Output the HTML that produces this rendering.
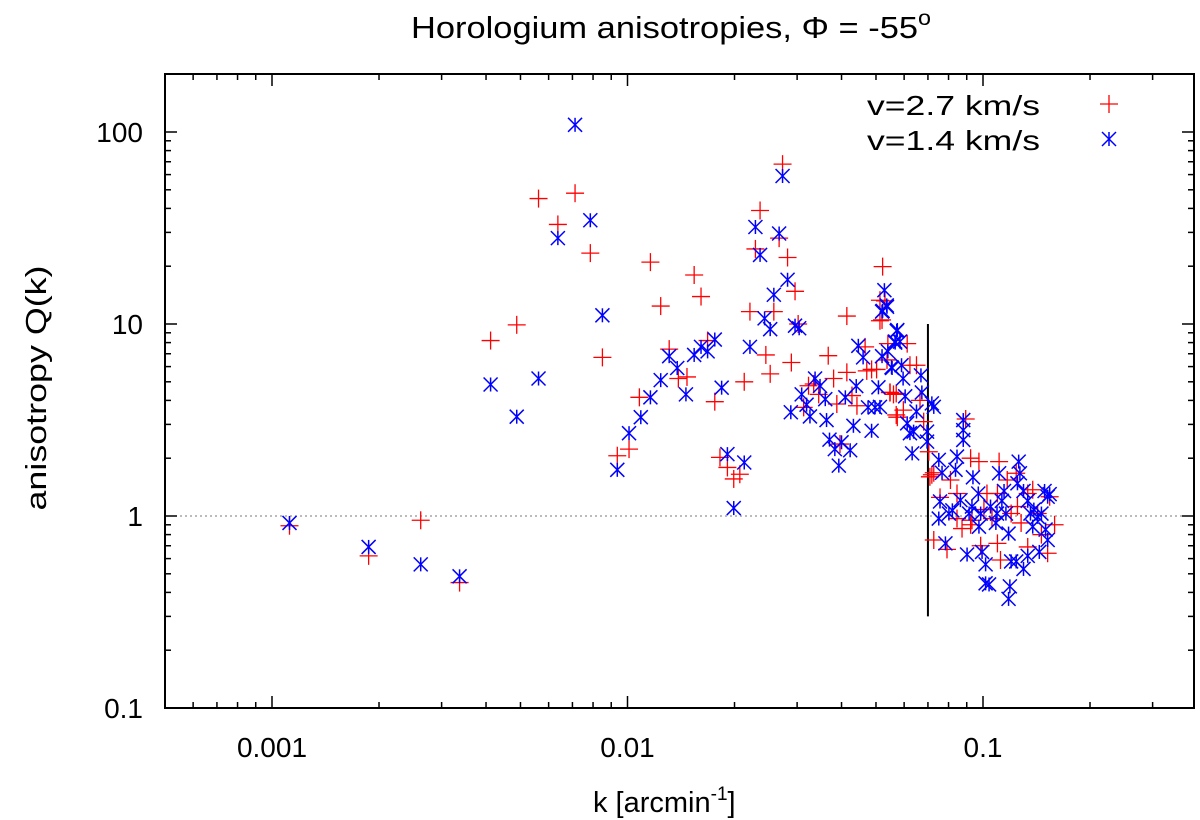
<!DOCTYPE html>
<html><head><meta charset="utf-8"><style>
html,body{margin:0;padding:0;background:#fff;}
svg{display:block;font-family:"Liberation Sans",sans-serif;}
</style></head><body>
<svg id="chart" width="1200" height="820" viewBox="0 0 1200 820" xmlns="http://www.w3.org/2000/svg">
<rect x="0" y="0" width="1200" height="820" fill="#fff"/>
<text x="411" y="38" font-size="31" textLength="520" lengthAdjust="spacingAndGlyphs">Horologium anisotropies, Φ = -55<tspan dy="-13" font-size="21">o</tspan></text>
<g id="axes"></g>
<g id="marks"></g>
<text x="593" y="812" font-size="29">k [arcmin<tspan dy="-12" font-size="19">-1</tspan><tspan dy="12">]</tspan></text>
<text transform="translate(46,388) rotate(-90)" font-size="29" text-anchor="middle" textLength="245" lengthAdjust="spacingAndGlyphs">anisotropy Q(k)</text>
<g>
<text x="867" y="115" font-size="28" textLength="173" lengthAdjust="spacingAndGlyphs">v=2.7 km/s</text>
<text x="867" y="150" font-size="28" textLength="173" lengthAdjust="spacingAndGlyphs">v=1.4 km/s</text>
<g id="legmarks"></g>
</g>
</svg>
<script>
const xTicks=[0.001,0.01,0.1];
const xTickLabels=["0.001","0.01","0.1"];
const yTicks=[0.1,1,10,100];
const yTickLabels=["0.1","1","10","100"];
const cutK=0.07;
const cutQ=[0.3,10];
const redK=[0.00112,0.00187,0.00262,0.00337,0.00412,0.00488,0.00562,0.00637,0.00712,0.00786,0.0085,
0.00936,0.0101,0.0108,0.0116,0.0124,0.0131,0.0139,0.0147,0.0154,0.0161,0.0168,0.0176,0.0182,0.0191,0.0199,0.0207,0.0213,0.0221,0.0229,0.0236,0.0245,0.0252,0.0258,0.0267,0.0273,0.0282,0.0296,0.0302,0.0289,0.0313,0.0323,0.0334,0.0345,0.0367,0.038,0.0388,0.0396,0.0414,0.0414,0.0428,0.0442,0.0466,0.0471,0.0486,0.0502,0.0513,0.0522,0.053,0.0547,0.056,0.0574,
0.0537,0.0612,0.065,0.0548,0.057,0.0597,0.057,0.0665,0.0681,0.0704,0.052,0.0513,0.054,0.0623,0.0718,0.0727,0.0792,
0.0894,0.0727,0.0923,0.0974,0.111,0.0709,0.081,0.0757,0.0845,0.1026,0.1006,0.1098,0.124,0.117,0.125,0.1336,0.1425,0.159,0.152,0.1336,0.1098,0.112,0.0985,0.0931,0.0873,0.0923,0.0845,0.106,0.146,0.154,0.138,0.12,0.128];
const redQ=[0.89,0.62,0.95,0.45,8.2,9.9,45,33,48,23.4,6.7,
2.06,2.23,4.15,21,12.4,7.4,5.2,5.3,18,13.9,8.2,3.94,2.02,1.79,1.56,1.65,5.0,11.6,24.6,39,6.9,5.5,11.6,28,68,22.2,14.8,10,6.3,3.68,4.77,4.87,4.3,6.84,5.2,3.83,2.37,11,5.6,4.24,3.75,7.6,5.7,5.8,5.8,10.4,19.9,13.2,4.4,4.3,3.27,
6.5,7.9,6.1,4.4,4.35,3.56,3.36,4.0,3.1,2.16,10.5,13.3,7.9,6.1,1.64,0.75,0.67,
3.2,1.68,2.0,1.92,1.92,1.6,1.54,1.25,1.31,1.31,1.08,1.31,1.67,1.54,1.12,1.31,1.03,0.9,0.64,0.69,0.72,0.59,0.7,0.95,0.86,0.9,0.97,0.97,0.8,1.26,1.37,1.03,0.92];
const blueK=[0.00112,0.00187,0.00262,0.00337,0.00412,0.00488,0.00562,0.00637,0.00712,0.00786,0.0085,
0.00936,0.0101,0.0109,0.0116,0.0124,0.0131,0.0138,0.0146,0.0154,0.0161,0.0168,0.0176,0.0184,0.0191,0.0213,0.0199,0.0221,0.0229,0.0236,0.0243,0.0252,0.0258,0.0267,0.0273,0.0282,0.0296,0.0304,0.0288,0.0309,0.0319,0.0326,0.0337,0.0348,0.036,0.0363,0.037,0.0383,0.0393,0.04,0.041,0.0423,0.0432,0.044,0.0446,0.046,0.0475,0.0486,0.0497,0.0508,0.0522,0.0528,0.0536,0.0553,0.0572,0.0566,
0.0537,0.052,0.0574,0.0566,0.0584,0.052,0.054,0.0555,0.059,0.0596,0.0669,0.0604,0.0673,0.0718,0.0727,0.0612,0.0638,0.0623,0.065,0.0696,0.0696,0.0632,0.0513,
0.0751,0.0767,0.0845,0.0837,0.088,0.088,0.088,0.0937,0.0757,0.0802,0.0751,0.0784,0.0864,0.0914,0.097,0.0985,0.0974,0.0902,0.0994,0.1017,0.1017,0.104,0.105,0.1087,0.111,0.1146,0.113,0.116,0.118,0.12,0.124,0.119,0.118,0.126,0.127,0.125,0.130,0.1336,0.136,0.139,0.1425,0.146,0.149,0.152,0.154,0.150,0.152,0.144,0.130,0.1336,0.138,0.1095,0.0931,0.082];
const blueQ=[0.92,0.69,0.56,0.485,4.84,3.29,5.2,28,109,34.7,11.1,
1.74,2.7,3.27,4.15,5.1,6.8,5.9,4.3,6.9,7.6,7.2,8.3,4.66,2.1,1.9,1.1,7.6,32,22.9,10.7,9.4,14.2,29.6,59,17,9.8,9.5,3.47,4.3,3.8,3.3,5.2,4.76,4.06,3.16,2.5,2.23,1.83,2.42,4.15,2.2,2.95,4.75,7.7,6.7,3.68,2.78,3.68,4.68,11.7,15,12.5,5.95,9.2,8.0,
12.3,11.6,9.3,8.1,8.1,6.8,7.2,5.9,6.1,5.2,5.4,4.2,4.4,3.86,3.7,3.04,2.75,2.7,3.5,2.75,2.44,2.12,3.7,
1.96,1.68,2.04,1.74,2.8,3.16,2.49,1.59,1.19,1.03,0.97,0.72,1.21,1.03,1.31,1.03,0.88,0.63,0.65,0.56,0.446,0.44,1.12,0.92,1.67,1.35,1.2,1.03,0.81,0.58,0.58,0.43,0.37,1.92,1.67,1.48,1.35,1.2,1.03,1.08,0.99,1.03,1.35,1.26,1.3,0.85,0.75,0.65,0.53,0.62,0.88,1.03,1.12,1.07];

const NS="http://www.w3.org/2000/svg";
const L=165,R=1194,T=74,B=708;
function X(k){return 272+(Math.log10(k)+3)*355.5;}
function Y(q){return 516-Math.log10(q)*192;}
function mk(tag,attrs,parent){const e=document.createElementNS(NS,tag);for(const a in attrs)e.setAttribute(a,attrs[a]);parent.appendChild(e);return e;}
const axes=document.getElementById('axes');
const marks=document.getElementById('marks');
const ref=mk('line',{x1:L,x2:R,y1:Y(1),y2:Y(1),stroke:'#777','stroke-width':1,'stroke-dasharray':'2,3'},axes);


for(let d=-4;d<=0;d++){for(let m=1;m<=9;m++){const v=m*Math.pow(10,d);const x=X(v);if(x<L+1||x>R-1)continue;const len=m===1?12:6;
mk('line',{x1:x,x2:x,y1:B,y2:B-len,stroke:'#000','stroke-width':1.5},axes);
mk('line',{x1:x,x2:x,y1:T,y2:T+len,stroke:'#000','stroke-width':1.5},axes);}}
for(let d=-2;d<=2;d++){for(let m=1;m<=9;m++){const v=m*Math.pow(10,d);const y=Y(v);if(y<T+1||y>B-1)continue;const len=m===1?12:6;
mk('line',{x1:L,x2:L+len,y1:y,y2:y,stroke:'#000','stroke-width':1.5},axes);
mk('line',{x1:R,x2:R-len,y1:y,y2:y,stroke:'#000','stroke-width':1.5},axes);}}
xTicks.forEach((v,i)=>{const t=mk('text',{x:X(v),y:757,'font-size':28,'text-anchor':'middle'},axes);t.textContent=xTickLabels[i];

});
yTicks.forEach((v,i)=>{const t=mk('text',{x:143,y:Y(v)+10,'font-size':28,'text-anchor':'end'},axes);t.textContent=yTickLabels[i];

});
const frame=mk('rect',{x:L,y:T,width:R-L,height:B-T,fill:'none',stroke:'#000','stroke-width':2},axes);


const cut=mk('line',{x1:X(cutK),x2:X(cutK),y1:Y(cutQ[0]),y2:Y(cutQ[1]),stroke:'#000','stroke-width':2},marks);


function plus(x,y,p){const g=mk('g',{stroke:'#f00','stroke-width':1.3},p);mk('line',{x1:x-9,x2:x+9,y1:y,y2:y},g);mk('line',{x1:x,x2:x,y1:y-9,y2:y+9},g);return g;}
function star(x,y,p){const g=mk('g',{stroke:'#00f','stroke-width':1.5},p);const s=7;mk('line',{x1:x,x2:x,y1:y-s,y2:y+s},g);mk('line',{x1:x-s,x2:x+s,y1:y-s,y2:y+s},g);mk('line',{x1:x-s,x2:x+s,y1:y+s,y2:y-s},g);return g;}
const gr=mk('g',{},marks);


redK.forEach((k,i)=>{const m=plus(X(k),Y(redQ[i]),gr);

});
const gb=mk('g',{},marks);


blueK.forEach((k,i)=>{const m=star(X(k),Y(blueQ[i]),gb);

});
const lm=document.getElementById('legmarks');
const l1=plus(1109,104,lm);


const l2=star(1109,139,lm);


</script>
</body></html>
